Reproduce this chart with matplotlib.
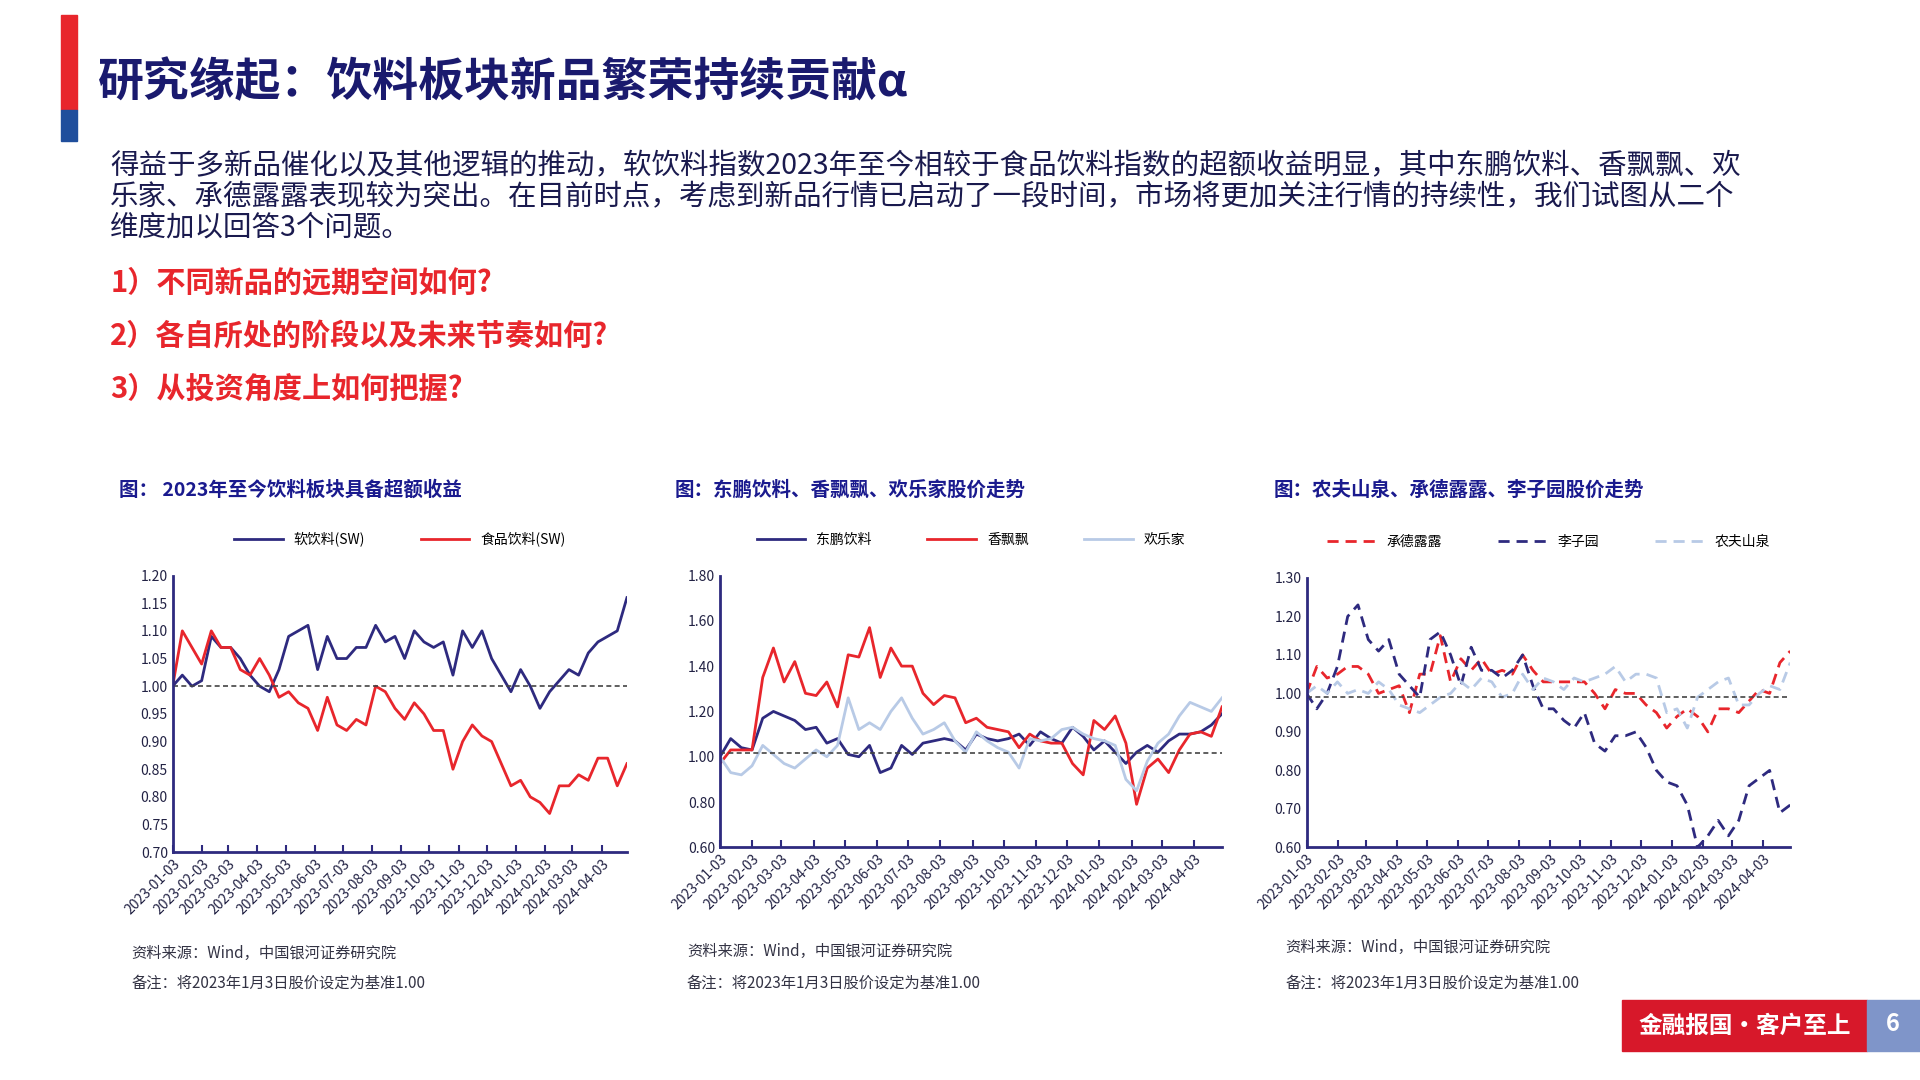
import pandas as pd
import matplotlib
matplotlib.use("Agg")
from matplotlib import pyplot as plt
import matplotlib.dates as mdates
from matplotlib.patches import Rectangle

plt.rcParams["font.family"] = "Noto Sans CJK SC"

NAVY = "#2e2a7f"
RED = "#e8262c"
LIGHT = "#b8cae6"

start, end = "2023-01-03", "2024-04-30"
tick_dates = pd.date_range("2023-01-01", "2024-04-01", freq="MS") + pd.Timedelta(days=2)

# chart 1: 2023年至今饮料板块具备超额收益
soft_drink = [1.00, 1.02, 1.00, 1.01, 1.09, 1.07, 1.07, 1.05, 1.02, 1.00, 0.99, 1.03,
              1.09, 1.10, 1.11, 1.03, 1.09, 1.05, 1.05, 1.07, 1.07, 1.11, 1.08, 1.09,
              1.05, 1.10, 1.08, 1.07, 1.08, 1.02, 1.10, 1.07, 1.10, 1.05, 1.02, 0.99,
              1.03, 1.00, 0.96, 0.99, 1.01, 1.03, 1.02, 1.06, 1.08, 1.09, 1.10, 1.16]
food_bev = [1.00, 1.10, 1.07, 1.04, 1.10, 1.07, 1.07, 1.03, 1.02, 1.05, 1.02, 0.98,
            0.99, 0.97, 0.96, 0.92, 0.98, 0.93, 0.92, 0.94, 0.93, 1.00, 0.99, 0.96,
            0.94, 0.97, 0.95, 0.92, 0.92, 0.85, 0.90, 0.93, 0.91, 0.90, 0.86, 0.82,
            0.83, 0.80, 0.79, 0.77, 0.82, 0.82, 0.84, 0.83, 0.87, 0.87, 0.82, 0.86]

# chart 2: 东鹏饮料、香飘飘、欢乐家
dongpeng = [1.00, 1.08, 1.04, 1.03, 1.17, 1.20, 1.18, 1.16, 1.12, 1.13, 1.06, 1.08,
            1.01, 1.00, 1.05, 0.93, 0.95, 1.05, 1.01, 1.06, 1.07, 1.08, 1.07, 1.03,
            1.10, 1.08, 1.07, 1.08, 1.10, 1.05, 1.11, 1.08, 1.06, 1.13, 1.09, 1.03,
            1.07, 1.02, 0.97, 1.02, 1.05, 1.02, 1.07, 1.10, 1.10, 1.11, 1.14, 1.19]
xiangpiaopiao = [0.97, 1.03, 1.03, 1.03, 1.35, 1.48, 1.33, 1.42, 1.28, 1.27, 1.33, 1.22,
                 1.45, 1.44, 1.57, 1.35, 1.48, 1.40, 1.40, 1.28, 1.23, 1.27, 1.26, 1.15,
                 1.17, 1.13, 1.12, 1.11, 1.04, 1.10, 1.07, 1.06, 1.06, 0.97, 0.92, 1.16,
                 1.12, 1.18, 1.06, 0.79, 0.95, 0.99, 0.93, 1.03, 1.10, 1.11, 1.09, 1.22]
huanlejia = [1.00, 0.93, 0.92, 0.96, 1.05, 1.01, 0.97, 0.95, 0.99, 1.03, 1.00, 1.05,
             1.26, 1.12, 1.15, 1.12, 1.20, 1.26, 1.17, 1.10, 1.12, 1.15, 1.07, 1.02,
             1.11, 1.07, 1.04, 1.02, 0.95, 1.08, 1.07, 1.08, 1.12, 1.13, 1.10, 1.08,
             1.07, 1.05, 0.90, 0.85, 0.98, 1.06, 1.10, 1.18, 1.24, 1.22, 1.20, 1.26]

# chart 3: 农夫山泉、承德露露、李子园
lulu = [1.00, 1.07, 1.04, 1.05, 1.07, 1.07, 1.05, 1.00, 1.01, 1.02, 0.95, 1.05,
        1.05, 1.15, 1.03, 1.09, 1.06, 1.09, 1.05, 1.06, 1.05, 1.10, 1.06, 1.03,
        1.03, 1.03, 1.03, 1.03, 1.00, 0.96, 1.01, 1.00, 1.00, 0.97, 0.95, 0.91,
        0.94, 0.96, 0.94, 0.90, 0.96, 0.96, 0.95, 0.98, 1.01, 1.00, 1.08, 1.11]
liziyuan = [1.00, 0.96, 1.00, 1.07, 1.20, 1.23, 1.14, 1.11, 1.14, 1.05, 1.02, 0.99,
            1.14, 1.16, 1.10, 1.02, 1.12, 1.06, 1.06, 1.04, 1.06, 1.10, 1.02, 0.96,
            0.96, 0.93, 0.91, 0.95, 0.87, 0.85, 0.89, 0.89, 0.90, 0.86, 0.80, 0.77,
            0.76, 0.71, 0.60, 0.63, 0.67, 0.63, 0.67, 0.76, 0.78, 0.80, 0.69, 0.71]
nongfu = [1.00, 1.02, 1.00, 1.03, 1.00, 1.01, 1.00, 1.03, 1.01, 0.97, 0.96, 0.95,
          0.97, 0.99, 1.00, 1.03, 1.01, 1.04, 1.03, 0.99, 1.00, 1.05, 1.01, 1.04,
          1.03, 1.01, 1.04, 1.03, 1.04, 1.05, 1.07, 1.03, 1.05, 1.05, 1.04, 0.95,
          0.96, 0.91, 0.99, 1.01, 1.03, 1.04, 0.97, 0.97, 1.00, 1.02, 1.01, 1.08]

W, H = 1568, 882  # layout measured on reference in these units


def frac(x0, y0, x1, y1):
    return [x0 / W, 1 - y1 / H, (x1 - x0) / W, (y1 - y0) / H]


fig = plt.figure(figsize=(19.2, 10.8), dpi=100)

# header
fig.patches.append(Rectangle((50 / W, 1 - 90 / H), 13 / W, 78 / H, color=RED, transform=fig.transFigure))
fig.patches.append(Rectangle((50 / W, 1 - 115 / H), 13 / W, 25 / H, color="#1f4e9c", transform=fig.transFigure))
fig.text(80 / W, 1 - 68 / H, "研究缘起：饮料板块新品繁荣持续贡献α", fontsize=33, fontweight="bold",
         color="#1a1a6e", va="center")

body = ["得益于多新品催化以及其他逻辑的推动，软饮料指数2023年至今相较于食品饮料指数的超额收益明显，其中东鹏饮料、香飘飘、欢",
        "乐家、承德露露表现较为突出。在目前时点，考虑到新品行情已启动了一段时间，市场将更加关注行情的持续性，我们试图从二个",
        "维度加以回答3个问题。"]
for i, line in enumerate(body):
    fig.text(90 / W, 1 - (136 + i * 25) / H, line, fontsize=20.5, color="#1a1a4e", va="center")
questions = ["1）不同新品的远期空间如何?", "2）各自所处的阶段以及未来节奏如何?", "3）从投资角度上如何把握?"]
for i, q in enumerate(questions):
    fig.text(90 / W, 1 - (231 + i * 43) / H, q, fontsize=21, color=RED, fontweight="bold", va="center")


def panel(box, title, tpos, series, ylim, yticks, base, src_y, dashed=False):
    ax = fig.add_axes(frac(*box))
    dates = pd.date_range(start, end, periods=len(series[0][1]))
    for label, vals, color in series:
        ax.plot(dates, vals, color=color, lw=2.0, label=label,
                linestyle=(0, (4, 2.5)) if dashed else "-")
    ax.axhline(base, color="#444444", lw=1.2, linestyle=(0, (3, 2)))
    ax.set_ylim(*ylim)
    ax.set_yticks(yticks)
    ax.set_yticklabels([f"{v:.2f}" for v in yticks], fontsize=10, color="#222244")
    ax.set_xlim(pd.Timestamp(start), pd.Timestamp(end))
    ax.set_xticks(tick_dates)
    ax.xaxis.set_major_formatter(mdates.DateFormatter("%Y-%m-%d"))
    plt.setp(ax.get_xticklabels(), rotation=45, ha="right", rotation_mode="anchor", fontsize=10, color="#222244")
    for s in ["top", "right"]:
        ax.spines[s].set_visible(False)
    for s in ["left", "bottom"]:
        ax.spines[s].set_color(NAVY)
        ax.spines[s].set_linewidth(2)
    ax.tick_params(axis="x", direction="in", color=NAVY, width=1.5, length=5)
    ax.tick_params(axis="y", length=0)
    ax.legend(loc="lower center", bbox_to_anchor=(0.5, 1.06), ncol=len(series), frameon=False,
              fontsize=10, handlelength=3.5, columnspacing=4)
    fig.text(tpos / W, 1 - 400 / H, title, fontsize=14, fontweight="bold", color="#1a1a8e", va="center")
    fig.text((tpos + 10) / W, 1 - src_y / H, "资料来源：Wind，中国银河证券研究院", fontsize=11, color="#333344", va="center")
    fig.text((tpos + 10) / W, 1 - 803 / H, "备注：将2023年1月3日股价设定为基准1.00", fontsize=11, color="#333344", va="center")


panel((141, 470, 512, 696), "图： 2023年至今饮料板块具备超额收益", 97,
      [("软饮料(SW)", soft_drink, NAVY), ("食品饮料(SW)", food_bev, RED)],
      (0.70, 1.20), [0.70 + 0.05 * i for i in range(11)], 1.00, 779)
panel((588, 470, 998, 692), "图：东鹏饮料、香飘飘、欢乐家股价走势", 551,
      [("东鹏饮料", dongpeng, NAVY), ("香飘飘", xiangpiaopiao, RED), ("欢乐家", huanlejia, LIGHT)],
      (0.60, 1.80), [0.60 + 0.2 * i for i in range(7)], 1.015, 777)
panel((1067, 472, 1462, 692), "图：农夫山泉、承德露露、李子园股价走势", 1040,
      [("承德露露", lulu, RED), ("李子园", liziyuan, NAVY), ("农夫山泉", nongfu, LIGHT)],
      (0.60, 1.30), [0.60 + 0.1 * i for i in range(8)], 0.99, 774, dashed=True)

# footer badge
fig.patches.append(Rectangle((1325 / W, 1 - 858 / H), 200 / W, 41 / H, color="#d7182a", transform=fig.transFigure))
fig.patches.append(Rectangle((1525 / W, 1 - 858 / H), 43 / W, 41 / H, color="#7f95c9", transform=fig.transFigure))
fig.text(1425 / W, 1 - 838 / H, "金融报国·客户至上", fontsize=17, fontweight="bold", color="white", ha="center", va="center")
fig.text(1546 / W, 1 - 836 / H, "6", fontsize=17, fontweight="bold", color="white", ha="center", va="center")

fig.savefig("out.png", dpi=100)
